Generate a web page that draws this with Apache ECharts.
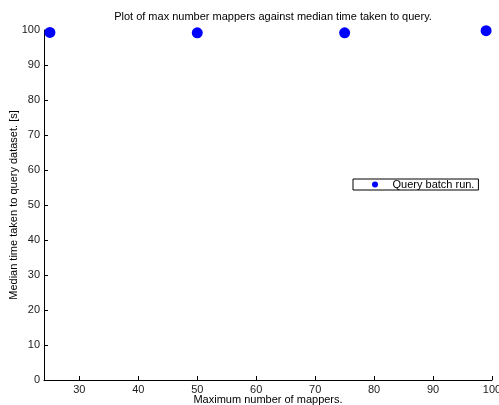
<!DOCTYPE html>
<html>
<head>
<meta charset="utf-8">
<script src="https://cdn.jsdelivr.net/npm/echarts@6/dist/echarts.min.js"></script>
<style>
  html, body { margin: 0; padding: 0; background: #fff; }
  #chart { width: 499px; height: 405px; }
</style>
</head>
<body>
<div id="chart"></div>
<script>
// mappers vs median query time
const mappers = [25, 50, 75, 99];
const medianTime = [99.3, 99.2, 99.2, 99.8];
const xTicks = [30, 40, 50, 60, 70, 80, 90, 100];
const seriesName = "Query batch run.";

const font = "'Liberation Sans', Arial, sans-serif";
const chart = echarts.init(document.getElementById("chart"));

chart.setOption({
  animation: false,
  title: {
    text: "Plot of max number mappers against median time taken to query.",
    left: 268,
    textAlign: "center",
    top: 6,
    textStyle: { fontSize: 11, fontWeight: "normal", color: "#000", fontFamily: font }
  },
  legend: {
    left: 353,
    top: 179,
    data: [seriesName],
    icon: "circle",
    itemWidth: 25,
    itemHeight: 6,
    padding: [0, 4, 0, 19],
    borderColor: "#000",
    borderWidth: 1,
    backgroundColor: "#fff",
    textStyle: { fontSize: 11, color: "#000", fontFamily: font, lineHeight: 11 }
  },
  grid: { left: 44, right: 7, top: 30, bottom: 25, outerBoundsMode: "none", containLabel: false },
  xAxis: {
    type: "value",
    min: 24,
    max: 100,
    name: "Maximum number of mappers.",
    nameLocation: "middle",
    nameGap: 14,
    nameMoveOverlap: false,
    nameTextStyle: { fontSize: 11, color: "#000", fontFamily: font },
    axisLine: { lineStyle: { color: "#000", width: 1 } },
    axisTick: { inside: true, length: 4, customValues: xTicks, lineStyle: { color: "#000" } },
    axisLabel: { customValues: xTicks, margin: 4, fontSize: 11, color: "#222", fontFamily: font, hideOverlap: false },
    splitLine: { show: false }
  },
  yAxis: {
    type: "value",
    min: 0,
    max: 100,
    interval: 10,
    name: "Median time taken to query dataset. [s]",
    nameLocation: "middle",
    nameGap: 25,
    nameMoveOverlap: false,
    nameTextStyle: { fontSize: 11, color: "#000", fontFamily: font },
    axisLine: { show: true, lineStyle: { color: "#000", width: 1 } },
    axisTick: { show: true, inside: true, length: 4, lineStyle: { color: "#000" } },
    axisLabel: { margin: 4, fontSize: 11, color: "#222", fontFamily: font },
    splitLine: { show: false }
  },
  series: [{
    name: seriesName,
    type: "scatter",
    data: mappers.map((m, i) => [m, medianTime[i]]),
    symbolSize: 11,
    itemStyle: { color: "#0000ff", opacity: 1 },
    clip: false
  }]
});
</script>
</body>
</html>
